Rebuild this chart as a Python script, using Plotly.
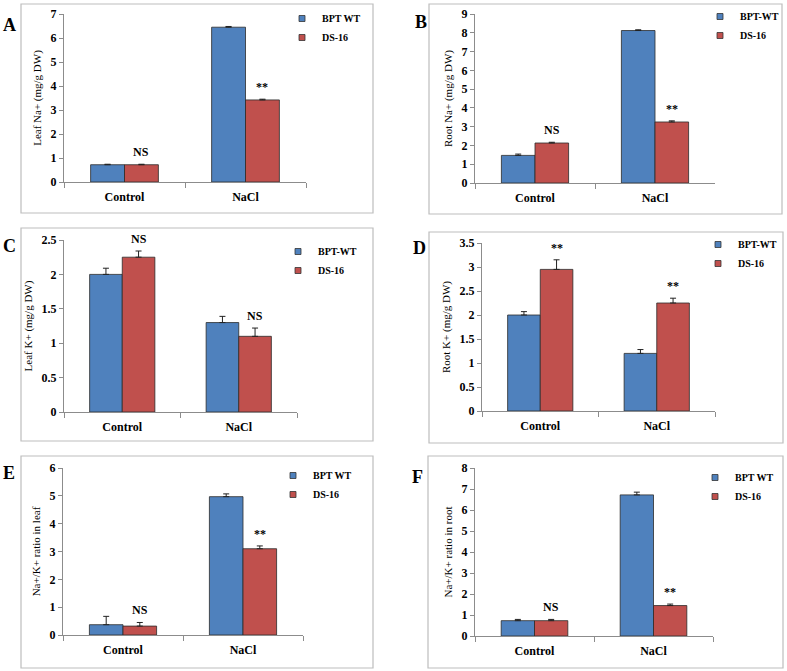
import plotly.graph_objects as go

W, H = 787, 671

categories = ["Control", "NaCl"]
panel_letters = ["A", "B", "C", "D", "E", "F"]
wt_names = ["BPT WT", "BPT-WT", "BPT-WT", "BPT-WT", "BPT WT", "BPT WT"]
ds_name = "DS-16"
y_titles = ["Leaf Na+ (mg/g DW)", "Root Na+ (mg/g DW)", "Leaf K+ (mg/g DW)",
            "Root K+ (mg/g DW)", "Na+/K+ ratio in leaf", "Na+/K+ ratio in root"]
y_max = [7, 9, 2.5, 3.5, 6, 8]
y_dtick = [1, 1, 0.5, 0.5, 1, 1]

# values [Control, NaCl]
A_wt, A_wt_err = [0.72, 6.45], [0.02, 0.03]
A_ds, A_ds_err = [0.72, 3.42], [0.02, 0.03]
B_wt, B_wt_err = [1.47, 8.12], [0.07, 0.04]
B_ds, B_ds_err = [2.13, 3.25], [0.04, 0.06]
C_wt, C_wt_err = [2.00, 1.30], [0.09, 0.09]
C_ds, C_ds_err = [2.25, 1.10], [0.09, 0.12]
D_wt, D_wt_err = [2.00, 1.20], [0.07, 0.08]
D_ds, D_ds_err = [2.95, 2.25], [0.20, 0.10]
E_wt, E_wt_err = [0.37, 4.97], [0.30, 0.10]
E_ds, E_ds_err = [0.32, 3.10], [0.13, 0.10]
F_wt, F_wt_err = [0.73, 6.72], [0.06, 0.13]
F_ds, F_ds_err = [0.73, 1.45], [0.06, 0.07]

A_sig = ["NS", "**"]
B_sig = ["NS", "**"]
C_sig = ["NS", "NS"]
D_sig = ["**", "**"]
E_sig = ["NS", "**"]
F_sig = ["NS", "**"]

panels = [
    (A_wt, A_wt_err, A_ds, A_ds_err, A_sig),
    (B_wt, B_wt_err, B_ds, B_ds_err, B_sig),
    (C_wt, C_wt_err, C_ds, C_ds_err, C_sig),
    (D_wt, D_wt_err, D_ds, D_ds_err, D_sig),
    (E_wt, E_wt_err, E_ds, E_ds_err, E_sig),
    (F_wt, F_wt_err, F_ds, F_ds_err, F_sig),
]

# layout geometry in pixels (reference image coordinates)
plot_px = [  # x0, x1, ytop, ybottom
    (64, 306, 14, 182), (475, 715, 14, 183),
    (64, 297, 240, 412), (482, 715, 243, 411),
    (63, 303, 468, 635), (475, 713, 468, 636),
]
box_px = [
    (21, 4, 373, 213), (429, 4, 782, 214),
    (21, 228, 373, 441), (429, 232, 783, 443),
    (21, 456, 373, 668), (428, 456, 783, 668),
]
letter_px = [(9.5, 25.5), (421, 22.5), (9, 245.5), (419.5, 247.5), (8.5, 473), (417.5, 476.5)]
legend_px = [(322, 19), (740, 17), (318, 252), (738, 245), (313, 476), (735, 478)]


def px2x(x):
    return x / W


def px2y(y):
    return 1 - y / H


BLUE = "#4F81BD"
RED = "#C0504D"
SERIF = "Liberation Serif"
BARGAP = 0.44

fig = go.Figure()
layout = dict(
    width=W, height=H, margin=dict(l=0, r=0, t=0, b=0, pad=0, autoexpand=False),
    paper_bgcolor="white", plot_bgcolor="white",
    barmode="group", bargap=BARGAP, bargroupgap=0,
    showlegend=True,
)
shapes = []
annotations = []

for i, (wt, wte, ds, dse, sig) in enumerate(panels):
    n = i + 1
    xa = "x" if n == 1 else f"x{n}"
    ya = "y" if n == 1 else f"y{n}"
    lg = "legend" if n == 1 else f"legend{n}"
    fig.add_trace(go.Bar(
        x=categories, y=wt, name=wt_names[i], xaxis=xa, yaxis=ya,
        marker=dict(color=BLUE, line=dict(color="#2b2b2b", width=0.8)),
        error_y=dict(type="data", array=wte, arrayminus=[0] * len(wte), symmetric=False,
                     color="#222222", thickness=1, width=3),
        showlegend=False, offsetgroup="wt",
    ))
    fig.add_trace(go.Bar(
        x=categories, y=ds, name=ds_name, xaxis=xa, yaxis=ya,
        marker=dict(color=RED, line=dict(color="#2b2b2b", width=0.8)),
        error_y=dict(type="data", array=dse, arrayminus=[0] * len(dse), symmetric=False,
                     color="#222222", thickness=1, width=3),
        showlegend=False, offsetgroup="ds",
    ))
    for nm, col in ((wt_names[i], BLUE), (ds_name, RED)):
        fig.add_trace(go.Scatter(
            x=[None], y=[None], mode="markers", name=nm, xaxis=xa, yaxis=ya,
            marker=dict(symbol="square", size=6, color=col, line=dict(color="#333333", width=0.8)),
            legend=lg, hoverinfo="skip",
        ))

    x0, x1, yt, yb = plot_px[i]
    xkey = "xaxis" if n == 1 else f"xaxis{n}"
    ykey = "yaxis" if n == 1 else f"yaxis{n}"
    layout[xkey] = dict(
        domain=[px2x(x0), px2x(x1)], anchor=ya, type="category",
        showline=True, linecolor="#8c8c8c", linewidth=1,
        ticks="outside", tickson="boundaries", ticklen=5, tickcolor="#8c8c8c",
        showgrid=False, zeroline=False,
        tickfont=dict(family=SERIF, size=12, color="black", weight="bold"),
        ticklabelstandoff=4,
    )
    layout[ykey] = dict(
        domain=[px2y(yb), px2y(yt)], anchor=xa,
        range=[0, y_max[i]], dtick=y_dtick[i], tick0=0,
        showline=True, linecolor="#8c8c8c", linewidth=1,
        ticks="outside", ticklen=4, tickcolor="#8c8c8c",
        showgrid=False, zeroline=False,
        tickfont=dict(family=SERIF, size=12, color="black", weight="bold"),
        title=dict(text=y_titles[i], font=dict(family=SERIF, size=11, color="black"), standoff=6),
    )
    lx, ly = legend_px[i]
    layout[lg] = dict(
        x=px2x(lx - 40), y=px2y(ly - 15), xanchor="left", yanchor="top",
        xref="paper", yref="paper", bgcolor="rgba(0,0,0,0)",
        font=dict(family=SERIF, size=10, color="black", weight="bold"),
        itemwidth=30, tracegroupgap=0,
    )
    bx0, by0, bx1, by1 = box_px[i]
    shapes.append(dict(type="rect", xref="paper", yref="paper",
                       x0=px2x(bx0), x1=px2x(bx1), y0=px2y(by1), y1=px2y(by0),
                       line=dict(color="#bdbdbd", width=1.2), fillcolor="rgba(0,0,0,0)"))
    px, py = letter_px[i]
    annotations.append(dict(text=panel_letters[i], xref="paper", yref="paper",
                            x=px2x(px), y=px2y(py), xanchor="center", yanchor="middle",
                            showarrow=False,
                            font=dict(family=SERIF, size=18, color="black", weight="bold")))
    offset = (1 - BARGAP) / 4
    for j, lab in enumerate(sig):
        annotations.append(dict(text=lab, xref=xa, yref=ya,
                                x=j + offset, y=ds[j] + dse[j],
                                xanchor="center", yanchor="bottom", yshift=3,
                                showarrow=False,
                                font=dict(family=SERIF, size=12, color="black", weight="bold")))

layout["shapes"] = shapes
layout["annotations"] = annotations
fig.update_layout(**layout)
fig.write_html("out.html", config={"displayModeBar": False},
               post_script="document.body.style.margin='0';")
